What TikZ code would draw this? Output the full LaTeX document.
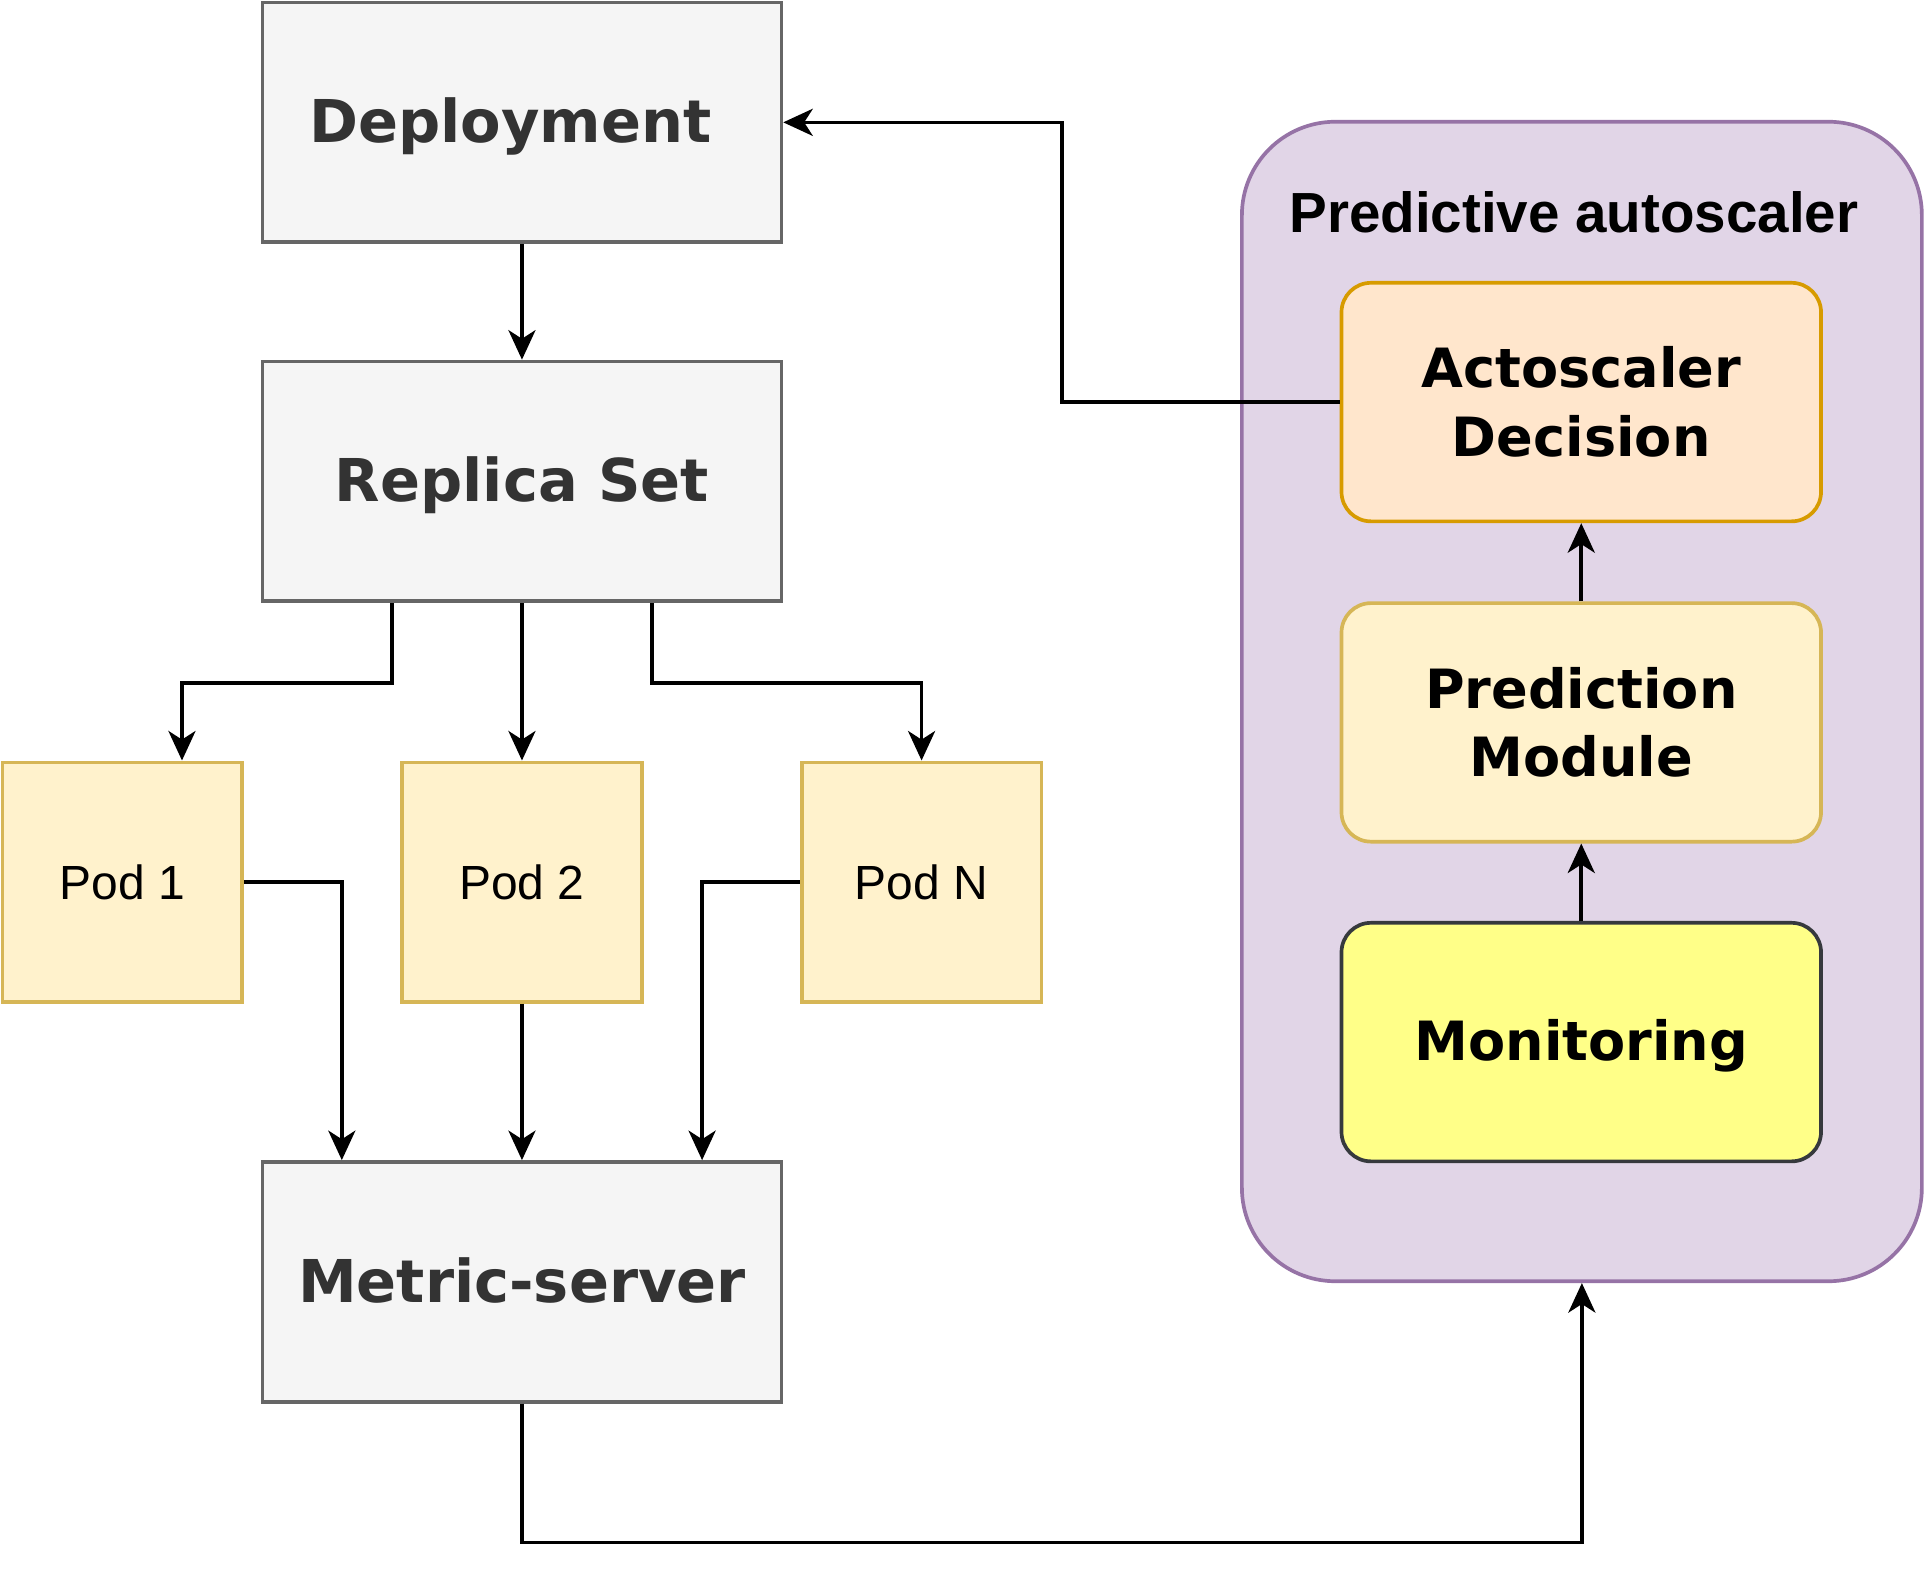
\documentclass[tikz,border=0pt]{standalone}
\usepackage{fontspec}
\setmainfont{DejaVu Sans}
\newfontfamily\podfont{Liberation Sans}
\usepackage{tikz}
\usetikzlibrary{arrows.meta}

\definecolor{grayfill}{HTML}{F5F5F5}
\definecolor{grayline}{HTML}{666666}
\definecolor{graytext}{HTML}{333333}
\definecolor{podfill}{HTML}{FFF2CC}
\definecolor{podline}{HTML}{D6B656}
\definecolor{autofill}{HTML}{E1D5E7}
\definecolor{autoline}{HTML}{9673A6}
\definecolor{decfill}{HTML}{FFE6CC}
\definecolor{decline}{HTML}{D79B00}
\definecolor{monfill}{HTML}{FFFF88}
\definecolor{monline}{HTML}{36393D}

\begin{document}
\begin{tikzpicture}[x=0.5pt, y=-0.5pt,
        kbox/.style={draw=grayline, fill=grayfill, line width=1.5pt, inner sep=0pt,
            minimum width=211pt, minimum height=97.5pt, text=graytext,
            text height=22.3pt, text depth=5.7pt,
            font=\fontsize{24}{29}\selectfont\bfseries},
        podbox/.style={draw=podline, fill=podfill, line width=1.5pt, inner sep=0pt,
            minimum width=97.5pt, minimum height=97.5pt,
            font=\podfont\fontsize{19.5}{24}\selectfont},
        inbox/.style={rounded corners=12pt, line width=1.5pt, inner sep=0pt,
            minimum width=195pt, minimum height=97pt, align=center,
            font=\fontsize{22}{28}\selectfont\bfseries},
        arr/.style={-{Stealth[length=12pt, width=11pt, inset=3.5pt]}, line width=1.5pt}]
            \useasboundingbox (0, 0) rectangle (1568, 1280);
            % autoscaler container
            \node (auto) at (1286.5, 570.5) [draw=autoline, fill=autofill, line width=1.5pt,
                rounded corners=38pt, minimum width=276.5pt, minimum height=471.5pt] {};
            \node (title) at (1280, 173) {\podfont\bfseries\fontsize{23}{27}\selectfont Predictive autoscaler};
            \node (decision) at (1286, 327) [inbox, draw=decline, fill=decfill] {Actoscaler\\Decision};
            \node (predict) at (1286, 587.5) [inbox, draw=podline, fill=podfill] {Prediction\\Module};
            \node (monitor) at (1286, 847.5) [inbox, draw=monline, fill=monfill,
                text height=20.5pt, text depth=5.2pt] {Monitoring};
            % kubernetes side
            \node (deploy) at (424.5, 99.5) [kbox] {Deployment\kern9.5pt};
            \node (replica) at (424.5, 391.5) [kbox] {Replica Set};
            \node (pod1) at (99.5, 717.5) [podbox] {Pod 1};
            \node (pod2) at (424.5, 717.5) [podbox] {Pod 2};
            \node (podn) at (749.5, 717.5) [podbox] {Pod N};
            \node (metric) at (424.5, 1042.5) [kbox] {Metric-server};
            % arrows
            \draw[arr] (deploy) -- (replica);
            \draw[arr] ([xshift=-52.75pt]replica.south) -- ++(0, 65) -| ([xshift=24.25pt]pod1.north);
            \draw[arr] (replica) -- (pod2);
            \draw[arr] ([xshift=52.75pt]replica.south) -- ++(0, 65) -| (podn.north);
            \draw[arr] (pod1.east) -| ([xshift=-73.25pt]metric.north);
            \draw[arr] (pod2) -- (metric);
            \draw[arr] (podn.west) -| ([xshift=73.25pt]metric.north);
            \draw[arr] (metric.south) -- ++(0, 113) -| (auto.south);
            \draw[arr] (monitor) -- (predict);
            \draw[arr] (predict) -- (decision);
            \draw[arr] (decision.west) -- ++(-226, 0) |- (deploy.east);
        \end{tikzpicture}
\end{document}
